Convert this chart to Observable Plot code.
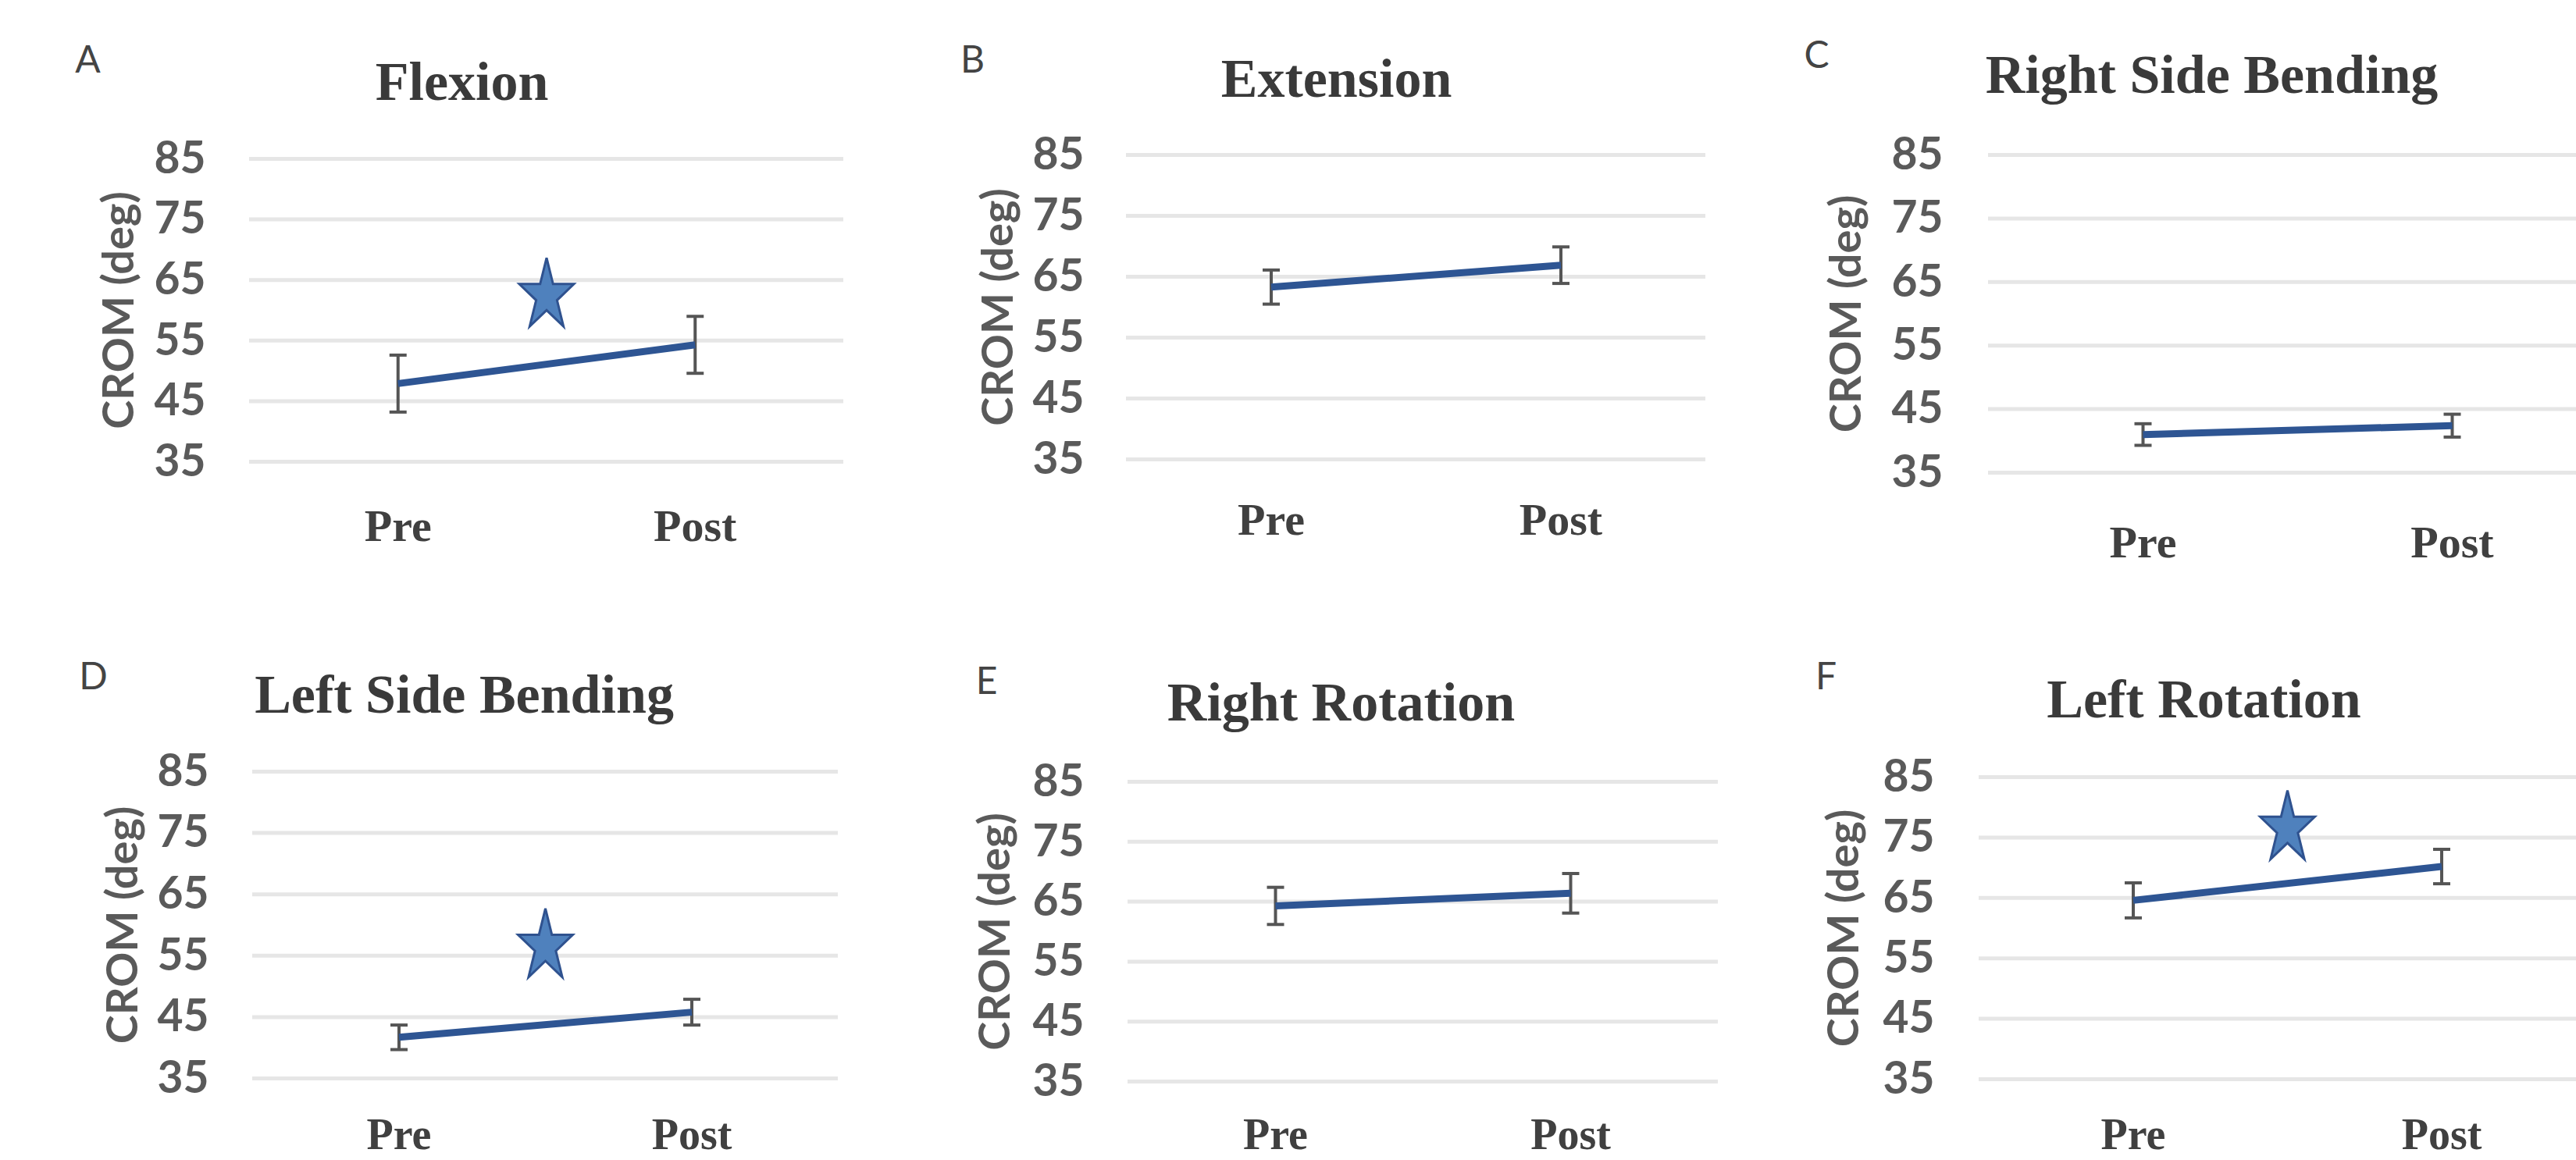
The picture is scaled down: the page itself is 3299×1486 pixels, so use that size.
<!DOCTYPE html>
<html>
<head>
<meta charset="utf-8">
<script src="https://cdn.jsdelivr.net/npm/d3@7"></script>
<script src="https://cdn.jsdelivr.net/npm/@observablehq/plot@0.6"></script>
<style>
  body { margin: 0; background: #fff; }
  #root { position: relative; width: 3299px; height: 1486px; overflow: hidden; background: #fff; }
  .panel { position: absolute; }
</style>
</head>
<body>
<div id="root"></div>
<script>
// ---- data ----
const letters = ["A", "B", "C", "D", "E", "F"];
const panels = ["Flexion", "Extension", "Right Side Bending", "Left Side Bending", "Right Rotation", "Left Rotation"];
const phases = ["Pre", "Post"];
const preMean = [47.9, 63.3, 41.0, 41.7, 64.3, 64.6];
const postMean = [54.3, 66.9, 42.4, 45.8, 66.4, 70.2];
const preErr = [4.7, 2.8, 1.7, 2.0, 3.1, 2.9];
const postErr = [4.7, 3.0, 1.8, 2.1, 3.3, 2.85];
const starY = [63.0, null, null, 57.1, null, 77.1]; // significance marker
const yTicks = [35, 45, 55, 65, 75, 85];
const yLabel = "CROM (deg)";

// ---- layout (frame position per panel, in page pixels) ----
const layout = [
  {L: 319,  T: 203,  W: 761, H: 388, tdx: 272, tdy: -76, ldx: -207, ldy: -126, ylab: -166, ytp: 56, xtp: 60, xfs: 58},
  {L: 1442, T: 198,  W: 742, H: 390, tdx: 269, tdy: -75, ldx: -197, ldy: -121, ylab: -163, ytp: 54, xtp: 55, xfs: 58},
  {L: 2546, T: 198,  W: 792, H: 407, tdx: 286, tdy: -80, ldx: -220, ldy: -127, ylab: -181, ytp: 58, xtp: 67, xfs: 58},
  {L: 323,  T: 988,  W: 750, H: 393, tdx: 271, tdy: -76, ldx: -204, ldy: -121, ylab: -165, ytp: 56, xtp: 51, xfs: 56},
  {L: 1444, T: 1001, W: 756, H: 384, tdx: 273, tdy: -79, ldx: -181, ldy: -128, ylab: -169, ytp: 56, xtp: 47, xfs: 56},
  {L: 2534, T: 995,  W: 790, H: 387, tdx: 288, tdy: -77, ldx: -196, ldy: -128, ylab: -172, ytp: 57, xtp: 50, xfs: 56}
];
const ML = 270, MT = 180, MR = 10, MB = 130;

// custom symbols
const hbar = {
  draw(ctx, size) {
    const r = Math.sqrt(size / Math.PI);
    ctx.moveTo(-r, 0); ctx.lineTo(r, 0);
  }
};
const star = {
  draw(ctx, size) {
    const r = Math.sqrt(size / Math.PI);          // half width
    const R = r / Math.cos(Math.PI / 10);
    const sy = 1.32, ri = R * 0.382;
    const shift = (R - R * Math.cos(Math.PI / 5)) / 2 * sy;
    for (let k = 0; k < 10; k++) {
      const a = -Math.PI / 2 + k * Math.PI / 5;
      const rad = k % 2 ? ri : R;
      const x = rad * Math.cos(a), y = rad * Math.sin(a) * sy + shift;
      if (k === 0) ctx.moveTo(x, y); else ctx.lineTo(x, y);
    }
    ctx.closePath();
  }
};

const root = document.getElementById("root");

panels.forEach((title, k) => {
  const c = layout[k];
  const rows = phases.map((p, j) => ({
    i: j,
    mean: j ? postMean[k] : preMean[k],
    err: j ? postErr[k] : preErr[k]
  }));
  const marks = [
    Plot.gridY(yTicks, {stroke: "#e6e6e6", strokeOpacity: 1, strokeWidth: 5}),
    Plot.axisY(yTicks, {tickSize: 0, tickPadding: c.ytp, fontSize: 57, fontWeight: "bold", fontFamily: "Lato", color: "#5a5a5a", label: null}),
    Plot.axisX([0, 1], {tickSize: 0, tickPadding: c.xtp, tickFormat: i => phases[i], fontSize: c.xfs, fontWeight: "bold", fontFamily: "Liberation Serif", color: "#404040", label: null}),
    Plot.ruleX(rows, {x: "i", y1: d => d.mean - d.err, y2: d => d.mean + d.err, stroke: "#555", strokeWidth: 4}),
    Plot.dot(rows, {x: "i", y: d => d.mean + d.err, symbol: hbar, r: 11, stroke: "#555", strokeWidth: 4, fill: "none"}),
    Plot.dot(rows, {x: "i", y: d => d.mean - d.err, symbol: hbar, r: 11, stroke: "#555", strokeWidth: 4, fill: "none"}),
    Plot.line(rows, {x: "i", y: "mean", stroke: "#2E5593", strokeWidth: 9, strokeLinecap: "butt"}),
    Plot.text([letters[k]], {frameAnchor: "top-left", dx: c.ldx, dy: c.ldy, text: d => d, fontSize: 48, fontFamily: "Lato", fill: "#444", textAnchor: "middle", lineAnchor: "middle"}),
    Plot.text([title], {frameAnchor: "top-left", dx: c.tdx, dy: c.tdy, text: d => d, fontSize: 70, fontWeight: "bold", fontFamily: "Liberation Serif", fill: "#3a3a3a", textAnchor: "middle", lineAnchor: "bottom"}),
    Plot.text([yLabel], {frameAnchor: "left", dx: c.ylab, text: d => d, rotate: -90, fontSize: 56, fontWeight: "bold", fontFamily: "Lato", fill: "#5a5a5a", textAnchor: "middle", lineAnchor: "middle"})
  ];
  if (starY[k] != null) {
    marks.push(Plot.dot([{i: 0.5, v: starY[k]}], {x: "i", y: "v", symbol: star, r: 35, fill: "#4F81BD", stroke: "#2F528F", strokeWidth: 3}));
  }
  const svg = Plot.plot({
    width: ML + c.W + MR,
    height: MT + c.H + MB,
    marginLeft: ML, marginRight: MR, marginTop: MT, marginBottom: MB,
    x: {domain: [-0.5, 1.5]},
    y: {domain: [35, 85]},
    style: {background: "transparent", overflow: "visible", maxWidth: "none"},
    marks
  });
  const div = document.createElement("div");
  div.className = "panel";
  div.style.left = (c.L - ML) + "px";
  div.style.top = (c.T - MT) + "px";
  div.style.width = (ML + c.W + MR) + "px";
  div.appendChild(svg);
  root.appendChild(div);
});
</script>
</body>
</html>
